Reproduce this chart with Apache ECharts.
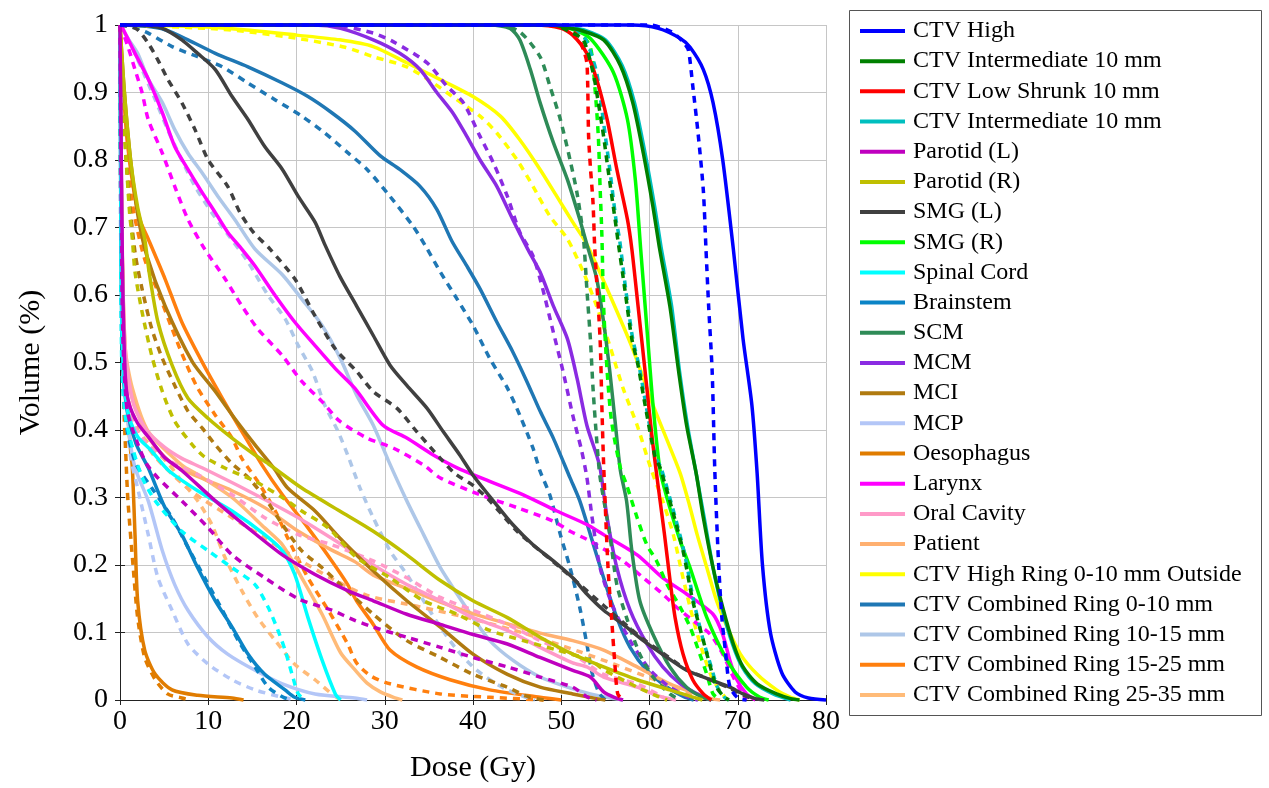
<!DOCTYPE html>
<html>
<head>
<meta charset="utf-8">
<script src="https://cdn.jsdelivr.net/npm/echarts@6/dist/echarts.min.js"></script>
<style>
  html, body { margin: 0; padding: 0; background: #fff; }
  #chart { width: 1269px; height: 788px; }
</style>
</head>
<body>
<div id="chart"></div>
<script>
// structure names, in legend order (second "CTV Intermediate 10 mm" carries a zero-width space so the legend keeps both)
const names = [
  'CTV High', 'CTV Intermediate 10 mm', 'CTV Low Shrunk 10 mm', 'CTV Intermediate 10 mm\u200B',
  'Parotid (L)', 'Parotid (R)', 'SMG (L)', 'SMG (R)', 'Spinal Cord', 'Brainstem', 'SCM', 'MCM',
  'MCI', 'MCP', 'Oesophagus', 'Larynx', 'Oral Cavity', 'Patient',
  'CTV High Ring 0-10 mm Outside', 'CTV Combined Ring 0-10 mm', 'CTV Combined Ring 10-15 mm',
  'CTV Combined Ring 15-25 mm', 'CTV Combined Ring 25-35 mm'
]

const colors = [
  '#0000ff', '#008000', '#ff0000', '#00bfbf',
  '#bf00bf', '#bfbf00', '#404040', '#00ff00', '#00ffff', '#0b84c6', '#2e8b57', '#8a2be2',
  '#b07a10', '#b3c6f7', '#e07c00', '#ff00ff', '#ff9ac8', '#ffb070',
  '#ffff00', '#1f77b4', '#aec7e8', '#ff7f0e', '#ffbb78'
]

// DVH curves: [dose (Gy), volume fraction]
const ctvHighSolid = [[0,1],[58,1],[61,0.995],[63.5,0.98],[64.6,0.967],[66.1,0.934],[67.2,0.885],[68.3,0.8],[69.5,0.668],[70.6,0.535],[71.6,0.437],[72.2,0.335],[72.8,0.2],[73.7,0.1],[75,0.04],[76.5,0.012],[78,0.003],[80,0]]
const ctvHighDashed = [[0,1],[60,1],[62.5,0.99],[63.8,0.975],[64.4,0.963],[64.9,0.91],[65.5,0.84],[66.1,0.755],[66.4,0.668],[66.7,0.584],[67.1,0.487],[67.4,0.34],[67.8,0.21],[68.2,0.122],[68.6,0.073],[69.1,0.02],[70,0.003],[71,0]]

const ctvIntSolid = [[0,1],[49,1],[51,0.995],[52,0.993],[54.8,0.978],[56.7,0.94],[58.1,0.885],[59.3,0.81],[60.4,0.73],[61.1,0.672],[62.3,0.584],[63.3,0.487],[64.2,0.407],[65.3,0.335],[66.1,0.27],[67.2,0.196],[68.3,0.137],[69.5,0.083],[70.6,0.049],[72.2,0.024],[74.4,0.009],[76,0.002],[77,0]]
const ctvIntDashed = [[0,1],[49,1],[51.3,0.988],[52.5,0.978],[53.6,0.93],[54.2,0.885],[54.8,0.835],[55.3,0.786],[56.1,0.712],[56.4,0.683],[57.2,0.609],[58,0.535],[58.7,0.496],[59.5,0.437],[60.6,0.362],[61.2,0.344],[62.3,0.295],[63.8,0.221],[64.9,0.147],[66.1,0.088],[66.9,0.049],[67.6,0.019],[68.5,0.004],[69,0]]

const ctvLowSolid = [[0,1],[47,1],[50,0.995],[51.3,0.985],[52.9,0.958],[54,0.92],[55.2,0.86],[56.3,0.786],[57.5,0.712],[58,0.668],[58.7,0.584],[59.5,0.487],[60.3,0.388],[60.8,0.335],[61.2,0.295],[61.7,0.245],[62.3,0.18],[62.9,0.122],[63.8,0.068],[64.9,0.03],[66.1,0.009],[67,0]]
const ctvLowDashed = [[0,1],[48,1],[50.5,0.996],[51.8,0.985],[52.6,0.96],[52.9,0.944],[53,0.91],[53.1,0.835],[53.3,0.79],[53.6,0.737],[53.8,0.668],[54.4,0.535],[54.6,0.437],[54.8,0.35],[55.3,0.196],[55.7,0.122],[56.1,0.049],[56.4,0.009],[57,0]]

const ctvInt2Solid = [[0,1],[49,1],[51,0.996],[52.5,0.993],[55,0.978],[56.9,0.94],[58.3,0.885],[59.5,0.81],[60.6,0.73],[61.3,0.672],[62.5,0.584],[63.4,0.487],[64.3,0.407],[65.3,0.335],[66.2,0.27],[67.2,0.196],[68.2,0.137],[69.4,0.083],[70.5,0.049],[72,0.024],[74,0.009],[76,0]]
const ctvInt2Dashed = [[0,1],[49.5,1],[52,0.99],[52.9,0.975],[54,0.93],[54.5,0.885],[55,0.835],[55.5,0.786],[56.2,0.712],[56.6,0.683],[57.3,0.609],[58.1,0.535],[58.8,0.496],[59.6,0.437],[60.7,0.36],[61.3,0.344],[62.4,0.295],[63.9,0.221],[65,0.147],[66.1,0.088],[67,0.049],[67.7,0.019],[68.5,0.004],[69,0]]

const parLSolid = [[0,1],[0.15,0.8],[0.3,0.62],[0.6,0.48],[1,0.44],[2,0.41],[3.2,0.39],[5,0.36],[7,0.34],[10.8,0.295],[14.5,0.255],[18.4,0.215],[22.1,0.186],[25.8,0.162],[28.7,0.147],[32.5,0.127],[36.3,0.112],[40,0.097],[43.9,0.083],[47.6,0.063],[51.3,0.044],[53.3,0.034],[54.8,0.012],[56,0.004],[57,0]]
const parLDashed = [[0,1],[0.1,0.8],[0.3,0.55],[0.8,0.43],[2,0.38],[3,0.35],[4.3,0.329],[7,0.295],[10,0.255],[12.7,0.215],[16.4,0.181],[20.2,0.15],[24,0.133],[26.6,0.118],[28.7,0.108],[32.5,0.093],[36.3,0.078],[40,0.063],[43.9,0.049],[47.6,0.034],[51.3,0.019],[53,0.004],[54,0]]

const parRSolid = [[0,1],[0.5,0.9],[1.2,0.8],[2,0.73],[2.8,0.683],[3.3,0.634],[4.3,0.56],[5.9,0.496],[7.7,0.447],[10,0.417],[12.7,0.388],[15.3,0.363],[16.8,0.35],[20.6,0.314],[24.9,0.28],[28.7,0.25],[32.5,0.215],[36.3,0.177],[40,0.147],[43.9,0.122],[47.6,0.093],[51.3,0.068],[54.8,0.049],[58.6,0.03],[62.3,0.015],[65,0.004],[66,0]]
const parRDashed = [[0,1],[0.3,0.9],[0.7,0.8],[1.1,0.72],[1.4,0.683],[1.7,0.634],[2.5,0.575],[3.6,0.51],[4.8,0.457],[6.2,0.413],[8.2,0.378],[9.6,0.36],[12,0.343],[15.3,0.324],[18.4,0.3],[20.6,0.28],[23.6,0.255],[26.8,0.211],[30.6,0.181],[34.4,0.147],[38.2,0.127],[41.9,0.103],[45.7,0.088],[49.5,0.074],[53.3,0.059],[54.8,0.045],[58.6,0.019],[61,0.005],[62,0]]

const smgLSolid = [[0,1],[3,0.999],[4.8,0.995],[7,0.978],[8.8,0.958],[10.8,0.934],[12.7,0.894],[14.5,0.86],[16.4,0.82],[18.4,0.786],[20.2,0.746],[22.1,0.708],[23.2,0.675],[24.9,0.628],[26.8,0.584],[28.7,0.54],[30.6,0.496],[32.5,0.466],[34.8,0.432],[36.6,0.398],[38.5,0.363],[40,0.333],[42.3,0.295],[44.5,0.26],[46.8,0.23],[49.1,0.206],[51.3,0.181],[52.9,0.157],[54.8,0.133],[57,0.112],[59.3,0.088],[62,0.063],[64.2,0.044],[66.9,0.03],[69.1,0.019],[70.6,0.009],[72,0.002],[73,0]]
const smgLDashed = [[0,1],[1,0.998],[2,0.993],[3.2,0.973],[4.3,0.948],[5.4,0.92],[7,0.885],[8.5,0.845],[10,0.8],[12.2,0.761],[13.6,0.722],[15.1,0.693],[17,0.668],[19.8,0.624],[22.1,0.569],[24.4,0.52],[26.8,0.487],[28.7,0.457],[31.4,0.432],[33.6,0.398],[36.3,0.358],[38,0.335],[40,0.318],[41.9,0.295],[45,0.25],[47.6,0.221],[49.9,0.196],[52.1,0.171],[54.8,0.14],[57,0.115],[59.3,0.09],[62,0.065],[64.2,0.045],[66.9,0.03],[69,0.018],[70.5,0.008],[72,0]]

const smgRSolid = [[0,1],[49,1],[51,0.995],[53.3,0.98],[55.9,0.93],[57.5,0.86],[58.4,0.77],[59,0.668],[59.8,0.535],[60.4,0.437],[61.2,0.34],[62.3,0.285],[63.5,0.235],[64.6,0.196],[66.5,0.122],[68.8,0.059],[71,0.019],[72.5,0.004],[73.5,0]]
const smgRDashed = [[0,1],[50,1],[52,0.99],[53.3,0.967],[53.8,0.91],[54.2,0.835],[54.4,0.76],[54.6,0.69],[54.8,0.584],[55.2,0.487],[55.7,0.413],[56.7,0.344],[57.4,0.319],[58.6,0.27],[59.7,0.23],[60.8,0.206],[62,0.171],[63.5,0.137],[64.6,0.108],[65.7,0.068],[66.5,0.038],[67.2,0.009],[68,0]]

const spinalSolid = [[0,1],[0.1,0.75],[0.2,0.55],[0.5,0.47],[1,0.42],[2,0.39],[3.5,0.37],[5.5,0.34],[8.8,0.31],[12.7,0.28],[16.4,0.245],[18.4,0.221],[19.8,0.186],[21.3,0.122],[22.9,0.059],[24.4,0.009],[25,0]]
const spinalDashed = [[0,1],[0.1,0.7],[0.2,0.5],[0.6,0.42],[1.5,0.37],[2.5,0.33],[4,0.295],[7,0.25],[10,0.221],[12.7,0.196],[15.3,0.171],[16.8,0.137],[17.9,0.103],[18.7,0.074],[19.5,0.038],[20.2,0.009],[21,0]]

const brainSolid = [[0,1],[0.1,0.7],[0.3,0.5],[0.8,0.43],[1.8,0.38],[3.2,0.344],[5.1,0.285],[7,0.245],[8.8,0.196],[10.8,0.147],[12.7,0.108],[14.5,0.068],[16.4,0.038],[18.7,0.015],[19.8,0.004],[21,0]]
const brainDashed = [[0,1],[0.1,0.65],[0.3,0.48],[0.8,0.4],[1.8,0.35],[3.6,0.314],[5.9,0.27],[7.7,0.226],[9.6,0.181],[11.6,0.133],[13.4,0.088],[15.3,0.049],[16.8,0.019],[18.5,0.004],[19.5,0]]

const scmSolid = [[0,1],[42,1],[44.2,0.995],[45.3,0.978],[46.5,0.934],[47.6,0.885],[49.1,0.826],[50.7,0.771],[52.1,0.712],[52.9,0.675],[54,0.625],[54.8,0.56],[55.5,0.487],[56.1,0.413],[56.7,0.34],[57.4,0.295],[58,0.221],[58.9,0.147],[60.4,0.097],[62.3,0.049],[64.2,0.019],[66,0.004],[67,0]]
const scmDashed = [[0,1],[43,1],[45.3,0.99],[47.6,0.953],[48.7,0.91],[49.9,0.86],[51,0.8],[51.8,0.75],[52.5,0.687],[52.9,0.609],[53.3,0.535],[53.6,0.462],[54,0.388],[54.4,0.33],[55.5,0.245],[56.3,0.171],[57.4,0.122],[58.9,0.068],[60.4,0.034],[62.3,0.009],[63.5,0]]

const mcmSolid = [[0,1],[22,1],[25,0.995],[28.7,0.978],[31.7,0.958],[34,0.934],[35.9,0.9],[37.7,0.87],[39.3,0.835],[40.8,0.8],[42.7,0.761],[44.5,0.712],[46.2,0.668],[47.6,0.634],[49.1,0.584],[50.7,0.535],[51.8,0.476],[52.9,0.407],[54,0.363],[54.4,0.344],[55.2,0.27],[56.3,0.196],[57.8,0.133],[59.7,0.083],[61.5,0.049],[63.5,0.024],[66,0.005],[67,0]]
const mcmDashed = [[0,1],[24,1],[28.7,0.988],[31,0.975],[34.8,0.944],[37,0.91],[38.9,0.885],[40.8,0.835],[42.3,0.796],[43.9,0.746],[45.3,0.693],[46.8,0.658],[47.9,0.609],[49.1,0.545],[50.2,0.487],[51.3,0.422],[52.3,0.37],[52.9,0.33],[53.5,0.27],[54.4,0.196],[55.9,0.137],[57.8,0.088],[60.1,0.044],[62.3,0.019],[64.5,0.004],[65.5,0]]

const mciSolid = [[0,1],[0.5,0.9],[1.2,0.8],[2,0.72],[3,0.66],[5.1,0.584],[8.2,0.501],[10.8,0.457],[13,0.417],[15.3,0.378],[17.4,0.344],[19,0.314],[22.1,0.28],[24.9,0.24],[28.7,0.191],[32.5,0.147],[36.3,0.108],[40,0.068],[43.9,0.038],[47.6,0.019],[51.3,0.009],[54,0.002],[55,0]]
const mciDashed = [[0,1],[0.3,0.9],[0.8,0.78],[1.7,0.663],[2.5,0.609],[3.6,0.55],[4.8,0.506],[6.2,0.466],[7.7,0.428],[9.3,0.403],[10.8,0.378],[12.7,0.35],[14.5,0.33],[16.4,0.3],[18.4,0.26],[20.6,0.221],[22.9,0.196],[24.9,0.172],[28.7,0.127],[32.5,0.088],[36.3,0.063],[40,0.038],[43.9,0.019],[46,0.006],[48,0]]

const mcpSolid = [[0,1],[0.2,0.7],[0.5,0.5],[1,0.4],[1.7,0.344],[3.2,0.295],[4.8,0.221],[6.2,0.171],[7.7,0.133],[10,0.093],[12.2,0.068],[15.3,0.044],[18.4,0.024],[22.1,0.009],[26.6,0.003],[28,0]]
const mcpDashed = [[0,1],[0.2,0.65],[0.5,0.45],[1.2,0.36],[2,0.314],[3.2,0.245],[4.3,0.181],[5.9,0.133],[7.7,0.083],[10,0.053],[12.7,0.03],[15.3,0.015],[18.4,0.004],[20,0]]

const oesSolid = [[0,1],[0.2,0.7],[0.5,0.5],[0.9,0.42],[1.2,0.37],[1.4,0.344],[1.7,0.245],[2,0.147],[2.8,0.074],[4,0.038],[5.9,0.015],[8.8,0.007],[12.7,0.003],[14,0]]
const oesDashed = [[0,1],[0.15,0.65],[0.4,0.45],[0.7,0.35],[0.9,0.295],[1.5,0.196],[2,0.122],[2.8,0.063],[4,0.03],[5.4,0.009],[7,0.003],[8,0]]

const larynxSolid = [[0,1],[0.3,0.995],[1.7,0.958],[3.2,0.92],[4.8,0.87],[6.2,0.82],[7.7,0.786],[9.3,0.752],[10.8,0.722],[12.2,0.693],[13.8,0.668],[15.3,0.643],[17.6,0.599],[19.8,0.56],[22.1,0.525],[24.4,0.491],[26.6,0.462],[29.8,0.407],[32.5,0.388],[35.5,0.363],[38.2,0.344],[41.9,0.324],[45.7,0.304],[49.5,0.28],[52.9,0.26],[54.8,0.245],[58.6,0.215],[61.5,0.181],[64.2,0.157],[67.2,0.127],[68.3,0.097],[69.1,0.059],[69.9,0.03],[71,0.009],[72,0]]
const larynxDashed = [[0,1],[0.3,0.99],[0.9,0.968],[1.7,0.934],[2.5,0.9],[3.2,0.86],[4.8,0.81],[6.2,0.761],[7.7,0.712],[9.6,0.668],[11.9,0.624],[13.8,0.584],[15.6,0.55],[18.4,0.51],[20.6,0.472],[22.9,0.442],[24.9,0.413],[28,0.388],[31,0.373],[34.4,0.348],[36.3,0.329],[40.8,0.304],[45,0.285],[49.1,0.265],[51,0.25],[52.9,0.238],[54,0.23],[57,0.206],[59.3,0.181],[61.5,0.157],[63.1,0.137],[64.9,0.118],[66.9,0.097],[68.3,0.068],[69.5,0.034],[70.5,0.01],[71,0]]

const oralSolid = [[0,1],[0.2,0.7],[0.6,0.52],[1.5,0.44],[3,0.4],[5,0.375],[7,0.358],[9.3,0.344],[14.5,0.31],[20.2,0.27],[24.9,0.232],[28.7,0.2],[32.5,0.171],[36.3,0.147],[40,0.122],[43.9,0.103],[47.6,0.078],[51.3,0.055],[52.9,0.049],[54.8,0.034],[58.6,0.019],[61,0.006],[63,0]]
const oralDashed = [[0,1],[0.2,0.65],[0.6,0.48],[1.5,0.41],[3,0.38],[5.5,0.355],[8.8,0.334],[12.7,0.304],[16.4,0.27],[20.2,0.245],[24,0.23],[28.7,0.206],[32.5,0.181],[36.3,0.152],[40,0.133],[43.9,0.112],[47.6,0.088],[51.3,0.068],[54.8,0.038],[58.6,0.024],[61,0.008],[62,0]]

const patientSolid = [[0,1],[0.2,0.7],[0.6,0.51],[1.4,0.447],[3.2,0.39],[5.9,0.35],[9,0.33],[12.7,0.31],[16.4,0.285],[20.2,0.25],[24,0.222],[26.6,0.205],[28.7,0.185],[32.5,0.165],[36.3,0.145],[40,0.128],[43.9,0.113],[47.6,0.099],[51.3,0.088],[54.8,0.074],[58.6,0.049],[62.3,0.024],[65.4,0.009],[67,0.002],[68,0]]
const patientDashed = [[0,1],[0.2,0.6],[0.7,0.46],[2,0.4],[4,0.36],[8,0.31],[12.7,0.27],[16.4,0.24],[20,0.21],[24,0.18],[28,0.155],[34,0.138],[40,0.12],[46,0.098],[52,0.072],[56,0.053],[60,0.033],[63.5,0.015],[66,0.004],[67,0]]

const ringHighSolid = [[0,1],[8,0.998],[14,0.993],[20,0.985],[24.9,0.978],[28.7,0.968],[32.5,0.944],[36.3,0.919],[40,0.894],[43.1,0.865],[45.3,0.83],[47.6,0.786],[49.5,0.746],[51.3,0.708],[52.9,0.675],[55.5,0.6],[58.1,0.52],[60.4,0.437],[62.3,0.375],[63.5,0.335],[64.5,0.29],[65.4,0.245],[66.5,0.196],[67.6,0.147],[68.8,0.108],[70.3,0.068],[72.2,0.038],[74.4,0.015],[76,0.004],[77,0]]
const ringHighDashed = [[0,1],[10,0.995],[14.5,0.99],[20.2,0.98],[25.5,0.967],[28.7,0.953],[32.5,0.938],[35.5,0.914],[38.2,0.889],[40.8,0.865],[42.7,0.84],[45,0.8],[46.8,0.761],[48.7,0.717],[50.7,0.683],[52.5,0.634],[54,0.584],[55.5,0.525],[57,0.462],[58.6,0.407],[60.1,0.345],[61.5,0.295],[62.7,0.245],[63.8,0.181],[64.9,0.122],[66.1,0.068],[67.2,0.03],[68.5,0.005],[69,0]]

const ring0Solid = [[0,1],[3,0.998],[5.1,0.993],[7.7,0.978],[10.8,0.958],[14.5,0.938],[18.4,0.914],[21.3,0.894],[24,0.87],[26.6,0.843],[29.5,0.806],[31.7,0.786],[34,0.761],[35.9,0.727],[37.6,0.68],[39.3,0.643],[40.8,0.609],[42.7,0.56],[44.5,0.516],[46.1,0.472],[47.6,0.428],[49.1,0.388],[51,0.329],[52.1,0.295],[53.3,0.245],[54.8,0.181],[56.3,0.122],[57.8,0.078],[59.7,0.044],[62,0.019],[64,0.004],[65,0]]
const ring0Dashed = [[0,1],[1.5,0.997],[3.2,0.988],[5.9,0.968],[8.8,0.953],[11.6,0.938],[14.5,0.914],[17.6,0.889],[20.6,0.865],[23.2,0.84],[25.8,0.811],[28,0.786],[30.6,0.746],[33.2,0.702],[34.6,0.673],[36.3,0.634],[38.2,0.594],[40,0.555],[41.9,0.506],[43.9,0.462],[45.3,0.422],[46.8,0.373],[47.6,0.339],[48.7,0.304],[49.9,0.245],[51,0.196],[52.1,0.137],[52.9,0.083],[53.5,0.04],[54.3,0.01],[55,0]]

const ring10Solid = [[0,1],[0.9,0.98],[2,0.958],[3.2,0.92],[4.8,0.885],[6.2,0.845],[7.7,0.81],[9.3,0.781],[11.1,0.746],[13,0.712],[15.3,0.668],[18.4,0.63],[20.6,0.594],[22.9,0.555],[25,0.505],[26.8,0.452],[28.7,0.407],[30.4,0.355],[32.5,0.295],[34.4,0.245],[36.3,0.196],[38.2,0.157],[40,0.122],[41.9,0.088],[44.5,0.059],[47.6,0.034],[50.7,0.019],[53.3,0.009],[56,0.002],[57,0]]
const ring10Dashed = [[0,1],[0.9,0.98],[2.5,0.934],[4,0.889],[5.4,0.845],[7,0.8],[8.5,0.761],[10.4,0.722],[12.2,0.69],[14.5,0.649],[16.8,0.599],[18.7,0.565],[20.2,0.525],[21.8,0.487],[23.2,0.437],[24.7,0.398],[25.8,0.363],[27.2,0.314],[28.7,0.27],[30.6,0.221],[32.5,0.186],[34.4,0.147],[36.3,0.108],[38.2,0.074],[40,0.049],[41.9,0.03],[43.9,0.015],[46,0.004],[47,0]]

const ring15Solid = [[0,1],[0.3,0.92],[0.8,0.83],[1.5,0.76],[2.3,0.71],[3.2,0.683],[5.1,0.624],[7,0.56],[9.3,0.501],[11.6,0.447],[13.8,0.398],[16.1,0.348],[18.4,0.304],[21.3,0.255],[24,0.206],[25.8,0.171],[26.8,0.147],[28.7,0.112],[30.6,0.074],[33.6,0.049],[37.4,0.03],[41.9,0.015],[47.6,0.004],[50,0]]
const ring15Dashed = [[0,1],[0.3,0.9],[0.8,0.8],[1.6,0.72],[2.8,0.653],[4.3,0.605],[5.9,0.55],[7.4,0.501],[8.8,0.462],[10.8,0.422],[12.7,0.388],[13.8,0.358],[15.6,0.324],[17.6,0.28],[19,0.24],[21.3,0.181],[23.6,0.133],[25.8,0.083],[26.8,0.055],[28.5,0.035],[30.6,0.024],[36.3,0.009],[41.9,0.004],[48,0]]

const ring25Solid = [[0,1],[0.2,0.7],[0.6,0.52],[1.4,0.462],[3.2,0.398],[7,0.348],[8.8,0.334],[12.7,0.3],[16.4,0.255],[18.4,0.23],[20.6,0.181],[22.9,0.127],[25,0.07],[26.6,0.045],[28,0.025],[29.5,0.012],[31,0.004],[32,0]]
const ring25Dashed = [[0,1],[0.2,0.6],[0.8,0.45],[2,0.4],[4,0.37],[5.5,0.35],[7,0.324],[8.8,0.295],[10.4,0.26],[11.9,0.211],[13.8,0.162],[15.6,0.122],[17.6,0.088],[19.8,0.053],[22.1,0.03],[24,0.009],[25,0]]

const solidCurves = [ctvHighSolid, ctvIntSolid, ctvLowSolid, ctvInt2Solid, parLSolid, parRSolid, smgLSolid, smgRSolid,
  spinalSolid, brainSolid, scmSolid, mcmSolid, mciSolid, mcpSolid, oesSolid, larynxSolid, oralSolid, patientSolid,
  ringHighSolid, ring0Solid, ring10Solid, ring15Solid, ring25Solid]
const dashedCurves = [ctvHighDashed, ctvIntDashed, ctvLowDashed, ctvInt2Dashed, parLDashed, parRDashed, smgLDashed, smgRDashed,
  spinalDashed, brainDashed, scmDashed, mcmDashed, mciDashed, mcpDashed, oesDashed, larynxDashed, oralDashed, patientDashed,
  ringHighDashed, ring0Dashed, ring10Dashed, ring15Dashed, ring25Dashed]

const FONT = "'Liberation Serif', 'DejaVu Serif', serif"

const lineSeries = (name, data, color, dashed) => ({
  name: name,
  type: 'line',
  data: data,
  symbol: 'none',
  smooth: 0.25,
  clip: false,
  lineStyle: { color: color, width: 3.5, type: dashed ? [7, 6] : 'solid', cap: 'butt', join: 'round' },
  itemStyle: { color: color },
  emphasis: { disabled: true },
  xAxisIndex: 0,
  yAxisIndex: 0
})

// draw last structure first so the CTV High curves end up on top
const series = []
for (let i = names.length - 1; i >= 0; i--) {
  series.push(lineSeries(names[i], solidCurves[i], colors[i], false))
  series.push(lineSeries(names[i] + ' (dashed)', dashedCurves[i], colors[i], true))
}

const chart = echarts.init(document.getElementById('chart'), null, { renderer: 'canvas' })
chart.setOption({
  animation: false,
  backgroundColor: '#ffffff',
  textStyle: { fontFamily: FONT },
  grid: { left: 120, right: 443, top: 25, bottom: 85, containLabel: false },
  legend: {
    data: names,
    orient: 'vertical',
    left: 860,
    top: 19,
    padding: 0,
    itemGap: 6.18,
    itemWidth: 45,
    itemHeight: 4,
    icon: 'rect',
    selectedMode: false,
    textStyle: { fontFamily: FONT, fontSize: 24, color: '#000', lineHeight: 24, padding: [0, 0, 0, 3] }
  },
  graphic: [{
    type: 'rect',
    shape: { x: 849.5, y: 10.5, width: 412, height: 705 },
    style: { fill: 'none', stroke: '#555', lineWidth: 1 },
    z: 0
  }],
  xAxis: [{
    type: 'value', min: 0, max: 80, interval: 10, position: 'bottom',
    name: 'Dose (Gy)', nameLocation: 'middle', nameGap: 53,
    nameTextStyle: { fontFamily: FONT, fontSize: 30, color: '#000' },
    axisLine: { show: true, lineStyle: { color: '#222', width: 1 } },
    axisTick: { show: true, inside: true, length: 5, lineStyle: { color: '#222' } },
    axisLabel: { fontFamily: FONT, fontSize: 28, color: '#000', margin: 8 },
    splitLine: { show: true, lineStyle: { color: '#c6c6c6', width: 1 } }
  }, {
    type: 'value', min: 0, max: 80, interval: 10, position: 'top',
    axisLine: { show: true, lineStyle: { color: '#222', width: 1 } },
    axisTick: { show: true, inside: true, length: 5, lineStyle: { color: '#222' } },
    axisLabel: { show: false },
    splitLine: { show: false }
  }],
  yAxis: [{
    type: 'value', min: 0, max: 1, interval: 0.1, position: 'left',
    name: 'Volume (%)', nameLocation: 'middle', nameGap: 74, nameRotate: 90,
    nameTextStyle: { fontFamily: FONT, fontSize: 30, color: '#000' },
    axisLine: { show: true, lineStyle: { color: '#222', width: 1 } },
    axisTick: { show: true, inside: true, length: 5, lineStyle: { color: '#222' } },
    axisLabel: {
      fontFamily: FONT, fontSize: 28, color: '#000', margin: 12,
      formatter: v => (v === 0 || v === 1) ? String(v) : v.toFixed(1)
    },
    splitLine: { show: true, lineStyle: { color: '#c6c6c6', width: 1 } }
  }, {
    type: 'value', min: 0, max: 1, interval: 0.1, position: 'right',
    axisLine: { show: true, lineStyle: { color: '#222', width: 1 } },
    axisTick: { show: true, inside: true, length: 5, lineStyle: { color: '#222' } },
    axisLabel: { show: false },
    splitLine: { show: false }
  }],
  series: series
})
</script>
</body>
</html>
